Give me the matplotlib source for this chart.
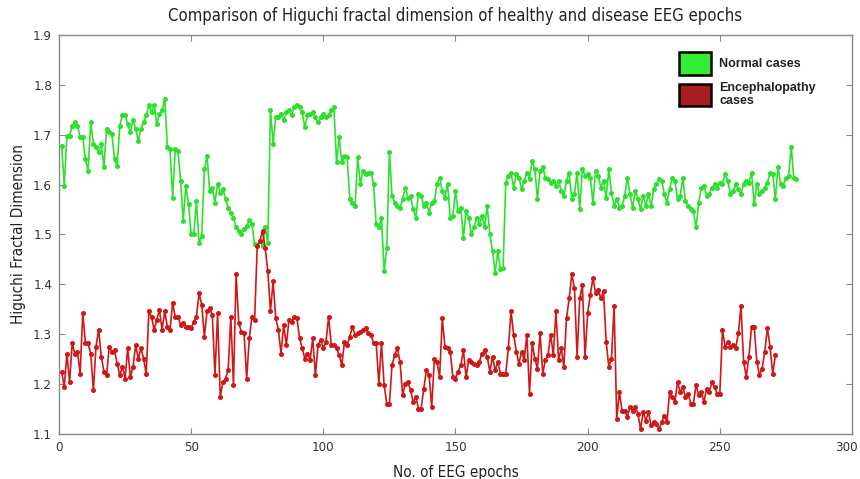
import numpy as np
import matplotlib
matplotlib.use("Agg")
import matplotlib.pyplot as plt
from matplotlib.patches import Patch
from matplotlib import font_manager
from matplotlib.transforms import ScaledTranslation

# Higuchi fractal dimension per EEG epoch
normal_hfd = [
    1.678, 1.598, 1.698, 1.698, 1.718, 1.725, 1.718, 1.695, 1.695, 1.651,
    1.628, 1.725, 1.682, 1.675, 1.665, 1.682, 1.635, 1.712, 1.705,
    1.702, 1.651, 1.638, 1.718, 1.739, 1.739, 1.722, 1.705, 1.729, 1.712,
    1.688, 1.712, 1.725, 1.739, 1.759, 1.745, 1.759, 1.722, 1.742,
    1.749, 1.772, 1.675, 1.672, 1.574, 1.672, 1.668, 1.608, 1.527, 1.598,
    1.561, 1.500, 1.500,
    1.567, 1.483, 1.497, 1.631, 1.658, 1.587, 1.594, 1.564, 1.601, 1.584,
    1.591, 1.571, 1.554, 1.544, 1.534, 1.514, 1.507, 1.500, 1.510,
    1.517, 1.530, 1.520, 1.480, 1.477, 1.487, 1.477, 1.514, 1.483,
    1.749,
    1.682, 1.735, 1.735, 1.742, 1.729, 1.745, 1.749, 1.739, 1.755, 1.759,
    1.755, 1.745, 1.715, 1.739, 1.742, 1.745, 1.735, 1.725, 1.735, 1.742,
    1.735, 1.739,
    1.749, 1.755, 1.645, 1.695, 1.645, 1.658, 1.655, 1.571, 1.564,
    1.557, 1.655, 1.601, 1.628, 1.621, 1.624, 1.624, 1.601, 1.520,
    1.514, 1.534, 1.426, 1.473, 1.665, 1.577, 1.564, 1.557,
    1.554, 1.571, 1.594, 1.574, 1.577, 1.551, 1.534, 1.581, 1.577,
    1.557, 1.564, 1.544, 1.564, 1.567, 1.601, 1.614, 1.587, 1.574,
    1.601, 1.534, 1.537, 1.587, 1.547, 1.554, 1.493,
    1.547, 1.534, 1.500, 1.514, 1.534, 1.520, 1.537,
    1.514, 1.557, 1.500, 1.467, 1.423, 1.467, 1.430, 1.433, 1.604,
    1.618, 1.624, 1.594, 1.621, 1.614, 1.591, 1.608, 1.624, 1.611, 1.648,
    1.631, 1.571, 1.628, 1.635, 1.614, 1.611, 1.604, 1.608,
    1.598, 1.608, 1.587, 1.577, 1.608, 1.624, 1.571, 1.581, 1.624, 1.551,
    1.631, 1.618, 1.621, 1.614, 1.564, 1.628, 1.618,
    1.594, 1.608, 1.574, 1.631, 1.584, 1.557, 1.571, 1.554,
    1.557, 1.577, 1.614, 1.581, 1.554, 1.587, 1.571, 1.551,
    1.577, 1.557, 1.581, 1.557, 1.591, 1.601, 1.611, 1.608,
    1.581, 1.564, 1.591, 1.614, 1.608, 1.571, 1.577, 1.614, 1.567,
    1.557, 1.551, 1.547, 1.514, 1.564, 1.594, 1.598, 1.577, 1.581,
    1.594, 1.601, 1.594, 1.604, 1.601, 1.621, 1.608, 1.581, 1.587,
    1.601, 1.591, 1.581, 1.601, 1.608, 1.604, 1.624, 1.561,
    1.601, 1.581, 1.587, 1.594, 1.604, 1.624, 1.621, 1.571,
    1.635, 1.601, 1.598, 1.614, 1.618, 1.675, 1.614, 1.611,
]

encephalopathy_hfd = [
    1.225, 1.194, 1.261, 1.204, 1.282, 1.261, 1.265, 1.221, 1.342, 1.282,
    1.282, 1.261, 1.188, 1.275, 1.309, 1.255, 1.225, 1.218, 1.275,
    1.265, 1.268, 1.241, 1.218, 1.235, 1.211, 1.272, 1.214, 1.235,
    1.278, 1.251, 1.272, 1.251, 1.221, 1.346, 1.335, 1.309, 1.329,
    1.349, 1.309, 1.346, 1.315, 1.309, 1.362, 1.335, 1.335, 1.319, 1.322,
    1.315, 1.315, 1.312, 1.325, 1.335,
    1.382, 1.359, 1.295, 1.346, 1.352, 1.339, 1.218, 1.342, 1.174,
    1.204, 1.211, 1.228, 1.335, 1.198, 1.420, 1.322, 1.305, 1.302,
    1.211, 1.292, 1.335, 1.329, 1.477, 1.487, 1.507, 1.473, 1.426, 1.346,
    1.406, 1.332, 1.309, 1.261, 1.319, 1.278, 1.329, 1.325, 1.335,
    1.332, 1.292, 1.272, 1.251, 1.261, 1.248, 1.292,
    1.218, 1.278, 1.288, 1.272, 1.285, 1.335,
    1.278, 1.278, 1.272, 1.258, 1.238, 1.285, 1.278, 1.295, 1.315,
    1.299, 1.302, 1.305, 1.309, 1.312, 1.302, 1.299, 1.282,
    1.282, 1.201, 1.282, 1.198, 1.161,
    1.161, 1.238, 1.258, 1.272, 1.245, 1.178, 1.201, 1.204, 1.188, 1.164,
    1.174, 1.151,
    1.151, 1.191, 1.228, 1.218, 1.154, 1.251, 1.245, 1.214, 1.332,
    1.275, 1.272, 1.265, 1.214, 1.211, 1.225, 1.238, 1.268,
    1.214, 1.248, 1.245, 1.241, 1.238, 1.245, 1.261, 1.268, 1.255,
    1.225, 1.255, 1.228, 1.245, 1.221, 1.221, 1.221, 1.272,
    1.346, 1.299, 1.265, 1.241, 1.265, 1.248, 1.299, 1.181,
    1.282, 1.251, 1.231, 1.302, 1.221, 1.248, 1.258, 1.299, 1.258, 1.346,
    1.248, 1.272, 1.235, 1.332, 1.372, 1.420,
    1.393, 1.255, 1.372, 1.399, 1.255, 1.342, 1.379, 1.413, 1.382,
    1.389, 1.372, 1.386, 1.285, 1.235, 1.251, 1.356, 1.130,
    1.184, 1.147, 1.147, 1.134, 1.154, 1.147, 1.154, 1.141, 1.110,
    1.144, 1.127, 1.144, 1.117, 1.124, 1.120, 1.110, 1.124, 1.137, 1.124,
    1.184,
    1.174, 1.164, 1.204, 1.184, 1.194, 1.174, 1.181, 1.161, 1.161, 1.198,
    1.178, 1.184, 1.164, 1.191, 1.184, 1.204, 1.194, 1.181, 1.181, 1.309,
    1.275, 1.285, 1.275, 1.278,
    1.272, 1.302, 1.356, 1.245, 1.215, 1.255, 1.315, 1.315, 1.245, 1.218,
    1.231, 1.265, 1.312, 1.275, 1.221, 1.258,
]

series_labels = ["Normal cases", "Encephalopathy\ncases"]
x_ticks = [0, 50, 100, 150, 200, 250, 300]
y_ticks = [1.1, 1.2, 1.3, 1.4, 1.5, 1.6, 1.7, 1.8, 1.9]

green = "#2ee02e"
dark_red = "#d01818"
patch_green = "#33ee33"
patch_red = "#a81e1e"
axis_grey = "#8a8a8a"

# use a condensed face for axis text if one is installed
cond = font_manager.FontProperties(family="DejaVu Sans", stretch="condensed")
if "Condensed" in font_manager.findfont(cond, fallback_to_default=True):
    axis_font = {"family": "DejaVu Sans", "stretch": "condensed"}
else:
    axis_font = {"family": "Liberation Sans"}

fig = plt.figure(figsize=(8.6, 4.79), dpi=100)
ax = fig.add_axes([0.0686, 0.094, 0.9221, 0.833])

epochs_n = np.arange(1, len(normal_hfd) + 1)
epochs_e = np.arange(1, len(encephalopathy_hfd) + 1)

ax.plot(epochs_n, normal_hfd, color=green, lw=1.2, marker="o", ms=2.6,
        mec=green, mfc=green)
ax.plot(epochs_e, encephalopathy_hfd, color=dark_red, lw=1.2, marker="o",
        ms=2.6, mec=dark_red, mfc=dark_red)

ax.set_xlim(0, 300)
ax.set_ylim(1.1, 1.9)
ax.set_xticks(x_ticks)
ax.set_yticks(y_ticks)
ax.set_xticklabels([str(t) for t in x_ticks], fontsize=9.5,
                   color="#333333", **axis_font)
ax.set_yticklabels([f"{t:.1f}" for t in y_ticks], fontsize=9.5,
                   color="#333333", **axis_font)
ax.tick_params(direction="in", length=4, color=axis_grey, top=True,
               right=True, pad=5)
for side in ax.spines.values():
    side.set_color(axis_grey)
    side.set_linewidth(1.0)

# nudge the last x label so it stays inside the figure
last = ax.get_xticklabels()[-1]
last.set_transform(last.get_transform()
                   + ScaledTranslation(-4 / 72, 0, fig.dpi_scale_trans))

ax.set_title("Comparison of Higuchi fractal dimension of healthy and disease EEG epochs",
             fontsize=12, color="#222222", pad=10, **axis_font)
ax.set_xlabel("No. of EEG epochs", fontsize=11, color="#222222",
              labelpad=8, **axis_font)
ax.set_ylabel("Higuchi Fractal Dimension", fontsize=11, color="#222222",
              labelpad=5, **axis_font)

handles = [
    Patch(facecolor=patch_green, edgecolor="black", linewidth=1.8),
    Patch(facecolor=patch_red, edgecolor="black", linewidth=1.8),
]
leg = ax.legend(handles, series_labels, loc="upper left",
                bbox_to_anchor=(0.768, 0.985), frameon=False,
                handlelength=2.5, handleheight=2.4, handletextpad=0.7,
                labelspacing=0.55,
                prop={"family": "Liberation Sans", "weight": "bold",
                      "size": 9})
for t in leg.get_texts():
    t.set_color("#222222")

fig.savefig("out.png", dpi=100)
